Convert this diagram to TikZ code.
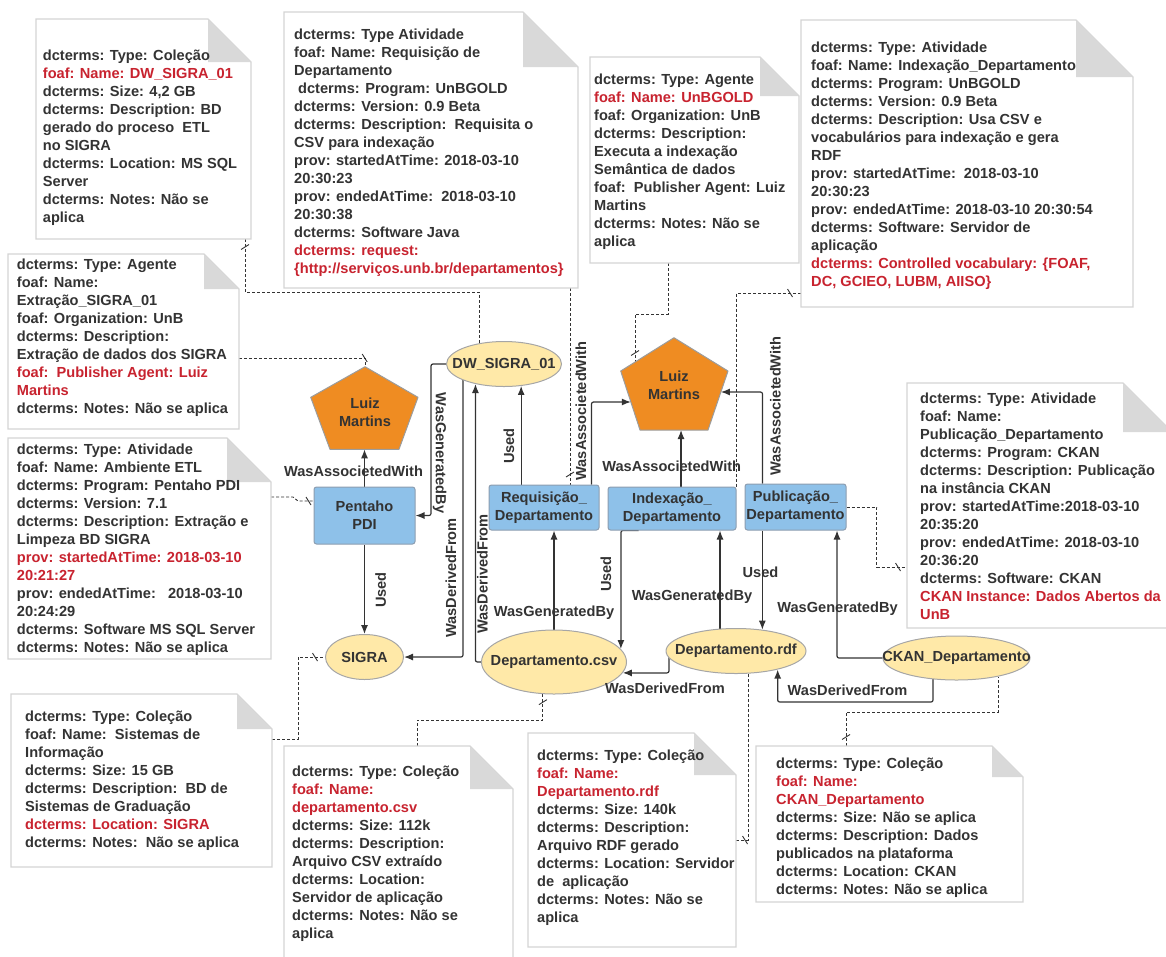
\documentclass[tikz,border=0pt]{standalone}
\usepackage{fontspec}
\setmainfont{Liberation Sans}
\usetikzlibrary{shapes.geometric,arrows.meta,decorations.markings}

\definecolor{ink}{HTML}{333333}
\definecolor{nred}{HTML}{C8232F}
\definecolor{notebd}{HTML}{D4D4D4}
\definecolor{foldgray}{HTML}{D9D9D9}
\definecolor{actfill}{HTML}{8EC1E9}
\definecolor{actbd}{HTML}{8C9DB0}
\definecolor{entfill}{HTML}{FFE9A8}
\definecolor{entbd}{HTML}{A6A6A6}
\definecolor{agfill}{HTML}{EF8C22}
\definecolor{agbd}{HTML}{9C9C9C}

\pgfdeclarelayer{links}
\pgfsetlayers{links,main}

\newcommand\rd[1]{\textcolor{nred}{#1}}

\tikzset{
  every node/.style={font=\fontsize{14.6}{18}\selectfont\bfseries, text=ink},
  notearea/.style={inner sep=0pt, outer sep=0pt},
  notebd/.style={draw=notebd, line width=1.2pt, fill=white},
  notetext/.style={inner sep=0pt, align=left, anchor=north west},
  activity/.style={draw=actbd, fill=actfill, rounded corners=2.5pt, line width=1pt, inner sep=0pt, align=center},
  entity/.style={draw=entbd, fill=entfill, shape=ellipse, line width=1pt, inner sep=0pt},
  agent/.style={draw=agbd, fill=agfill, line width=1pt, line join=round},
  agentlabel/.style={inner sep=0pt, align=center},
  rel/.style={draw=ink, line width=1.2pt, rounded corners=2pt, -{Latex[length=9pt,width=7pt]}},
  lbl/.style={inner sep=0pt},
  note link/.style={draw=ink, line width=0.9pt, dash pattern=on 3pt off 2pt},
  tick at/.style={postaction={decorate, decoration={markings,
      mark=at position #1 with {\draw[solid, ink, line width=0.9pt] (-2.5,-4) -- (2.5,4);}}}},
}

% document-shaped note: name, top-left x,y, bottom-right x,y, fold size, text x,y, text
\newcommand\docnote[9]{%
  \node[notearea, minimum width={(#4)-(#2)}, minimum height={(#5)-(#3)}, anchor=north west] (#1) at (#2,#3) {};
  \draw[notebd] (#1.north west) -- ([xshift=-#6pt]#1.north east) -- ([yshift=-#6pt]#1.north east)
     -- (#1.south east) -- (#1.south west) -- cycle;
  \fill[foldgray] ([xshift=-#6pt]#1.north east) -- ([xshift=-#6pt,yshift=-#6pt]#1.north east)
     -- ([yshift=-#6pt]#1.north east) -- cycle;
  \node[notetext] (#1-txt) at (#7,#8) {\strut #9};
}

\begin{document}
\begin{tikzpicture}[x=1pt,y=-1pt]
\useasboundingbox (0,0) rectangle (1166,956);

% ---------- annotation notes ----------
\docnote{n1}{36}{19}{251}{239}{43}{42.7}{47.6}{%
dcterms: Type: Coleção\\
\rd{foaf: Name: DW\_SIGRA\_01}\\
dcterms: Size: 4,2 GB\\
dcterms: Description: BD\\
gerado do proceso\ \ ETL\\
no SIGRA\\
dcterms: Location: MS SQL\\
Server\\
dcterms: Notes: Não se\\
aplica}

\docnote{n2}{284}{12}{578}{288}{55}{294}{26.6}{%
dcterms: Type Atividade\\
foaf: Name: Requisição de\\
Departamento\\
\hspace*{4pt}dcterms: Program: UnBGOLD\\
dcterms: Version: 0.9 Beta\\
dcterms: Description:\ \ Requisita o\\
CSV para indexação\\
prov: startedAtTime: 2018-03-10\\
20:30:23\\
prov: endedAtTime:\ \ 2018-03-10\\
20:30:38\\
dcterms: Software Java\\
\rd{dcterms: request:}\\
\rd{\{http://serviços.unb.br/departamentos\}}}

\docnote{n3}{590}{57}{799}{263}{39}{594}{71.6}{%
dcterms: Type: Agente\\
\rd{foaf: Name: UnBGOLD}\\
foaf: Organization: UnB\\
dcterms: Description:\\
Executa a indexação\\
Semântica de dados\\
foaf:\ \ Publisher Agent: Luiz\\
Martins\\
dcterms: Notes: Não se\\
aplica}

\docnote{n4}{801}{20}{1133}{307}{57}{811}{39.3}{%
dcterms: Type: Atividade\\
foaf: Name: Indexação\_Departamento\\
dcterms: Program: UnBGOLD\\
dcterms: Version: 0.9 Beta\\
dcterms: Description: Usa CSV e\\
vocabulários para indexação e gera\\
RDF\\
prov: startedAtTime:\ \ 2018-03-10\\
20:30:23\\
prov: endedAtTime: 2018-03-10 20:30:54\\
dcterms: Software: Servidor de\\
aplicação\\
\rd{dcterms: Controlled vocabulary: \{FOAF,}\\
\rd{DC, GCIEO, LUBM, AIISO\}}}

\docnote{n5}{8}{254}{239}{429}{35}{16.7}{256.6}{%
dcterms: Type: Agente\\
foaf: Name:\\
Extração\_SIGRA\_01\\
foaf: Organization: UnB\\
dcterms: Description:\\
Extração de dados dos SIGRA\\
\rd{foaf:\ \ Publisher Agent: Luiz}\\
\rd{Martins}\\
dcterms: Notes: Não se aplica}

\docnote{n6}{8}{438}{271}{659}{44}{16.7}{441.6}{%
dcterms: Type: Atividade\\
foaf: Name: Ambiente ETL\\
dcterms: Program: Pentaho PDI\\
dcterms: Version: 7.1\\
dcterms: Description: Extração e\\
Limpeza BD SIGRA\\
\rd{prov: startedAtTime: 2018-03-10}\\
\rd{20:21:27}\\
prov: endedAtTime:\ \ \ 2018-03-10\\
20:24:29\\
dcterms: Software MS SQL Server\\
dcterms: Notes: Não se aplica}

\docnote{n7}{907}{383}{1172}{628}{49}{920}{390.6}{%
dcterms: Type: Atividade\\
foaf: Name:\\
Publicação\_Departamento\\
dcterms: Program: CKAN\\
dcterms: Description: Publicação\\
na instância CKAN\\
prov: startedAtTime:2018-03-10\\
20:35:20\\
prov: endedAtTime: 2018-03-10\\
20:36:20\\
dcterms: Software: CKAN\\
\rd{CKAN Instance: Dados Abertos da}\\
\rd{UnB}}

\docnote{n8}{11}{694}{272}{867}{35}{25}{708.6}{%
dcterms: Type: Coleção\\
foaf: Name:\ \ Sistemas de\\
Informação\\
dcterms: Size: 15 GB\\
dcterms: Description:\ \ BD de\\
Sistemas de Graduação\\
\rd{dcterms: Location: SIGRA}\\
dcterms: Notes:\ \ Não se aplica}

\docnote{n9}{284}{746}{513}{964}{43}{292}{763.6}{%
dcterms: Type: Coleção\\
\rd{foaf: Name:}\\
\rd{departamento.csv}\\
dcterms: Size: 112k\\
dcterms: Description:\\
Arquivo CSV extraído\\
dcterms: Location:\\
Servidor de aplicação\\
dcterms: Notes: Não se\\
aplica}

\docnote{n10}{528}{733}{736}{947}{42}{537}{747.6}{%
dcterms: Type: Coleção\\
\rd{foaf: Name:}\\
\rd{Departamento.rdf}\\
dcterms: Size: 140k\\
dcterms: Description:\\
Arquivo RDF gerado\\
dcterms: Location: Servidor\\
de\ \ aplicação\\
dcterms: Notes: Não se\\
aplica}

\docnote{n11}{756}{746}{1023}{902}{31}{776}{755.6}{%
dcterms: Type: Coleção\\
\rd{foaf: Name:}\\
\rd{CKAN\_Departamento}\\
dcterms: Size: Não se aplica\\
dcterms: Description: Dados\\
publicados na plataforma\\
dcterms: Location: CKAN\\
dcterms: Notes: Não se aplica}

% ---------- agents ----------
\path[agent] (310.7,397.3) -- (365,366.7) -- (418,397.3) -- (399,449.3) -- (330,449.3) -- cycle;
\node[agentlabel] (lmA) at (365,412) {Luiz\\Martins};
\coordinate (lmA-top) at (365,366.7);
\coordinate (lmA-bot) at (364.5,449.3);

\path[agent] (620.7,371) -- (674,337.7) -- (728,371) -- (708,430) -- (640,430) -- cycle;
\node[agentlabel] (lmB) at (674,385) {Luiz\\Martins};
\coordinate (lmB-in) at (630.8,402);
\coordinate (lmB-out) at (720.9,392);
\coordinate (lmB-bot) at (681,430);
\coordinate (lmB-note) at (635,362);

% ---------- activities ----------
\node[activity, minimum width=101, minimum height=57] (pdi) at (364.5,515.5) {Pentaho\\PDI};
\node[activity, minimum width=110, minimum height=45] (req) at (544,507.5) {Requisição\_\\Departamento};
\node[activity, minimum width=128, minimum height=43] (idx) at (672,508.5) {Indexação\_\\Departamento};
\node[activity, minimum width=101, minimum height=46] (pub) at (795.5,507) {Publicação\_\\Departamento};

% ---------- entities ----------
\node[entity, minimum width=115, minimum height=45, label={[lbl, name=dw-t]center:DW\_SIGRA\_01}] (dw) at (504,364) {};
\node[entity, minimum width=78, minimum height=45, label={[lbl, name=sigra-t]center:SIGRA}] (sigra) at (364.5,657) {};
\node[entity, minimum width=145, minimum height=64, label={[lbl, name=csv-t]center:Departamento.csv}] (csv) at (554,662) {};
\node[entity, minimum width=140, minimum height=45, label={[lbl, name=rdf-t]center:Departamento.rdf}] (rdf) at (736,651) {};
\node[entity, minimum width=147, minimum height=44, label={[lbl, name=ckan-t]center:CKAN\_Departamento}] (ckan) at (956.5,658) {};

% ---------- relation labels ----------
\node[lbl] (l1) at (353.5,471) {WasAssocietedWith};
\node[lbl, rotate=90] (l2) at (380.7,590) {Used};
\node[lbl, rotate=-90] (l3) at (439.7,453) {WasGeneratedBy};
\node[lbl, rotate=90] (l4) at (450.8,578) {WasDerivedFrom};
\node[lbl, rotate=90] (l5) at (482.5,574) {WasDerivedFrom};
\node[lbl, rotate=90] (l6) at (509,446) {Used};
\node[lbl] (l7) at (554,612.5) {WasGeneratedBy};
\node[lbl, rotate=90] (l8) at (581,411) {WasAssocietedWith};
\node[lbl] (l9) at (671.7,466.7) {WasAssocietedWith};
\node[lbl, rotate=90] (l10) at (775.3,406) {WasAssocietedWith};
\node[lbl, rotate=90] (l11) at (606,574) {Used};
\node[lbl] (l12) at (692,597) {WasGeneratedBy};
\node[lbl] (l13) at (760.5,572.3) {Used};
\node[lbl] (l14) at (665,688.3) {WasDerivedFrom};
\node[lbl] (l15) at (837.5,608.3) {WasGeneratedBy};
\node[lbl] (l16) at (847.5,690) {WasDerivedFrom};

\begin{pgfonlayer}{links}
% ---------- provenance relations ----------
\draw[rel] (pdi.north) -- (lmA-bot);
\draw[rel] (pdi.south) -- (sigra.north);
\draw[rel] (dw.west) -- ++(-15,0) |- (pdi.east);
\draw[rel] ([xshift=-41pt]dw.center) |- (sigra.east);
\draw[rel] (csv.west) -| (dw.215);
\draw[rel] (dw.308 |- req.north) -- (dw.308);
\draw[rel] (csv.center) -- (csv.center |- req.south);
\draw[rel] ([xshift=47.5pt]req.north) |- (lmB-in);
\draw[rel] (lmB-bot |- idx.north) -- (lmB-bot);
\draw[rel] ([xshift=-33pt]pub.north) |- (lmB-out);
\draw[rel] ([xshift=31pt]idx.south west) -- (csv.11 |- idx.south) -- (csv.11);
\draw[rel] ([xshift=-16pt]rdf.center) -- ([xshift=48pt]idx.south);
\draw[rel] (rdf.39 |- pub.south) -- (rdf.39);
\draw[rel] ([xshift=-67pt]rdf.center) |- (csv.-9);
\draw[rel] (ckan.west) -| ([xshift=41.5pt]pub.south);
\draw[rel] ([xshift=-23.5pt]ckan.center) -- ++(0,44) -| (rdf.-24);

% ---------- note attachments ----------
\draw[note link, tick at=8pt] ([xshift=101.5pt]n1.south) -- ++(0,53) -| (dw.140);
\draw[note link, tick at=-10pt] ([xshift=139pt]n2.south) -- ([xshift=26pt]req.north);
\draw[note link, tick at=-9pt] ([xshift=-26.5pt]n3.south) -- ++(0,51) -| (lmB-note);
\draw[note link, tick at=11pt] ([yshift=-129.5pt]n4.west) -| (idx.north east);
\draw[note link, tick at=-9pt] ([yshift=-16.5pt]n5.east) -| (lmA-top);
\draw[note link, tick at=-5pt] ([yshift=51.5pt]n6.east) -- ++(22,0) -- ++(5,4) -- ([yshift=14.5pt]pdi.west);
\draw[note link, tick at=-9pt] (pub.east) -- ++(30,0) |- ([yshift=-61.5pt]n7.west);
\draw[note link, tick at=-10pt] ([yshift=41.5pt]n8.east) -- ++(26,0) |- (sigra.west);
\draw[note link, tick at=-8pt] ([xshift=18.5pt]n9.north) -- ++(0,-26) -| (csv.251);
\draw[note link, tick at=9pt] (n10.east) -| (rdf.-62);
\draw[note link, tick at=9pt] ([xshift=-43.5pt]n11.north) -- ++(0,-34) -| (ckan.-24);
\end{pgfonlayer}
\end{tikzpicture}
\end{document}
